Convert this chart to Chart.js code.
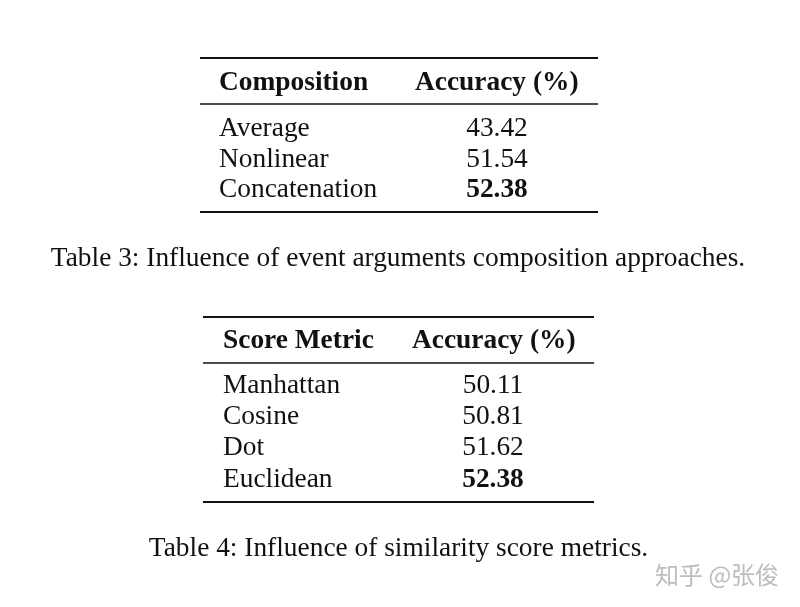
<!DOCTYPE html>
<html>
<head>
<meta charset="utf-8">
<script src="https://cdn.jsdelivr.net/npm/chart.js@4"></script>
<style>
html,body{margin:0;padding:0;background:#fff;}
#wrap{width:800px;height:607px;position:relative;}
</style>
</head>
<body>
<div id="wrap"><canvas id="c"></canvas></div>
<script>
// ---- data ----
const compHeaders = ['Composition', 'Accuracy (%)'];
const compMethods = ['Average', 'Nonlinear', 'Concatenation'];
const compAccuracy = [43.42, 51.54, 52.38];
const compCaption = 'Table 3: Influence of event arguments composition approaches.';

const metricHeaders = ['Score Metric', 'Accuracy (%)'];
const metricNames = ['Manhattan', 'Cosine', 'Dot', 'Euclidean'];
const metricAccuracy = [50.11, 50.81, 51.62, 52.38];
const metricCaption = 'Table 4: Influence of similarity score metrics.';

const watermark = '知乎 @张俊';

// ---- layout (pixel-space of the hidden linear scales) ----
const FONT = '"Liberation Serif", serif';
const FS = 27.4;
const tables = [
  { headers: compHeaders, names: compMethods, values: compAccuracy, caption: compCaption,
    x0: 200, x1: 598, textX: 219, valX: 497, hdr2X: 415,
    top: 58, mid: 104, bot: 212, hdrBase: 90, firstBase: 136, rowStep: 30.6,
    capBase: 266, capX: 398 },
  { headers: metricHeaders, names: metricNames, values: metricAccuracy, caption: metricCaption,
    x0: 203, x1: 594, textX: 223, valX: 493, hdr2X: 412,
    top: 317, mid: 363, bot: 502, hdrBase: 348, firstBase: 393, rowStep: 31.2,
    capBase: 556, capX: 398.5 }
];

function cellPoints(t) {
  return t.values.map((v, i) => ({ x: t.valX, y: t.firstBase + i * t.rowStep }));
}

const tablePlugin = {
  id: 'tablePlugin',
  afterDatasetsDraw(chart) {
    const ctx = chart.ctx;
    const xs = chart.scales.x, ys = chart.scales.y;
    ctx.save();
    ctx.fillStyle = '#111';
    ctx.strokeStyle = '#111';
    tables.forEach((t, ti) => {
      const X = v => xs.getPixelForValue(v), Y = v => ys.getPixelForValue(v);
      [[t.top, 2], [t.mid, 1.3], [t.bot, 2]].forEach(([y, w]) => {
        ctx.lineWidth = w;
        ctx.beginPath();
        ctx.moveTo(X(t.x0), Y(y));
        ctx.lineTo(X(t.x1), Y(y));
        ctx.stroke();
      });
      ctx.textBaseline = 'alphabetic';
      ctx.font = 'bold ' + FS + 'px ' + FONT;
      ctx.textAlign = 'left';
      ctx.fillText(t.headers[0], X(t.textX), Y(t.hdrBase));
      ctx.fillText(t.headers[1], X(t.hdr2X), Y(t.hdrBase));
      const meta = chart.getDatasetMeta(ti);
      const best = Math.max(...t.values);
      meta.data.forEach((el, i) => {
        const v = t.values[i];
        ctx.font = FS + 'px ' + FONT;
        ctx.textAlign = 'left';
        ctx.fillText(t.names[i], X(t.textX), el.y);
        ctx.font = (v === best ? 'bold ' : '') + FS + 'px ' + FONT;
        ctx.textAlign = 'center';
        ctx.fillText(v.toFixed(2), el.x, el.y);
      });
      ctx.font = FS + 'px ' + FONT;
      ctx.textAlign = 'center';
      ctx.fillText(t.caption, X(t.capX), Y(t.capBase));
    });
    ctx.font = '24px "Noto Sans CJK SC", sans-serif';
    ctx.fillStyle = '#bdbdbd';
    ctx.textAlign = 'left';
    ctx.textBaseline = 'middle';
    ctx.fillText(watermark, xs.getPixelForValue(655), ys.getPixelForValue(575));
    ctx.restore();
  }
};

new Chart(document.getElementById('c'), {
  type: 'scatter',
  data: { datasets: tables.map(t => ({ data: cellPoints(t), pointRadius: 0, pointHoverRadius: 0 })) },
  options: {
    responsive: true,
    maintainAspectRatio: false,
    animation: false,
    events: [],
    layout: { padding: 0 },
    plugins: { legend: { display: false }, tooltip: { enabled: false } },
    scales: {
      x: { type: 'linear', min: 0, max: 800, display: false },
      y: { type: 'linear', min: 0, max: 607, reverse: true, display: false }
    }
  },
  plugins: [tablePlugin]
});
</script>
</body>
</html>
